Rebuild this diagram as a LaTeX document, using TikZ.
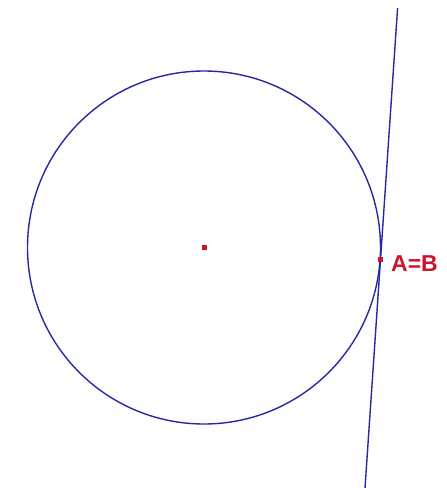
\documentclass[tikz,border=0pt]{standalone}
\usepackage{fontspec}
\setmainfont{Liberation Sans}
\definecolor{geoblue}{RGB}{40,40,165}
\definecolor{geored}{RGB}{205,20,45}
\tikzset{
  geoline/.style={draw=geoblue, line width=1.4pt},
  geopt/.style={fill=geored, draw=none, minimum size=5pt, inner sep=0pt, rectangle},
  geolabel/.style={text=geored, font=\fontsize{23}{25}\selectfont\bfseries, anchor=west, inner sep=0pt}
}
\begin{document}
\begin{tikzpicture}[x=1pt,y=-1pt]
  \useasboundingbox (0,0) rectangle (447,488);
  \coordinate (c) at (204,247.5);
  \draw[geoline] (c) circle[radius=176.5];
  \node[geopt] (center) at (c) {};
  \coordinate (top) at (397.6,8);
  \coordinate (bot) at (365,488);
  \draw[geoline] (top) -- (bot);
  \node[geopt] (A) at (380.5,259.5) {};
  \node[geolabel] (lab) at (391,264) {A=B};
\end{tikzpicture}
\end{document}
